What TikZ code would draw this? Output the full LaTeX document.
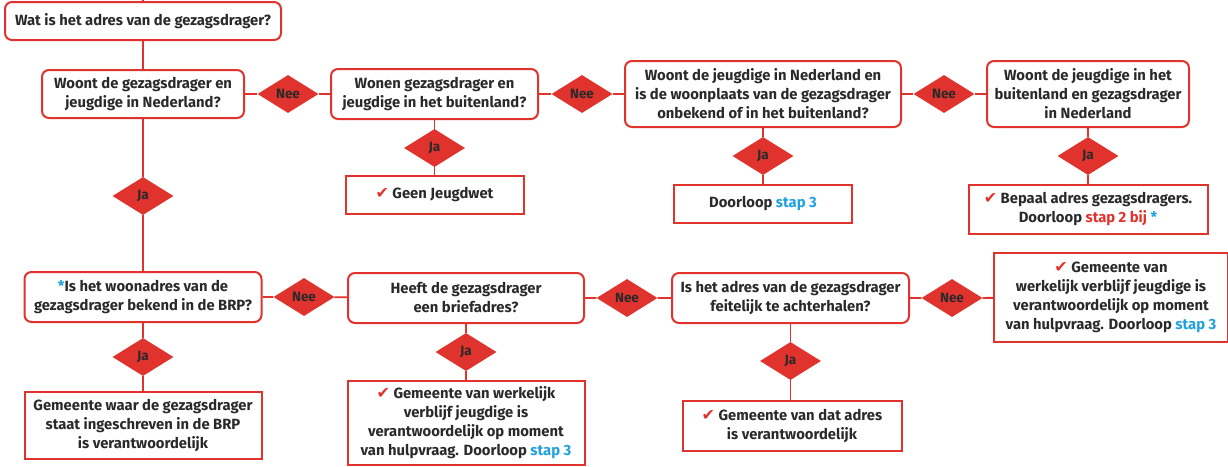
\documentclass[tikz,border=0pt]{standalone}
\usepackage{fontspec}
\setmainfont{Fira Sans}
\newfontfamily\symfont{DejaVu Sans}
\usepackage{tikz}
\usetikzlibrary{shapes.geometric}

\definecolor{rood}{HTML}{E1332D}
\definecolor{blauw}{HTML}{1FA2DE}
\definecolor{tekst}{HTML}{2A2A2A}
\newcommand{\vink}{{\symfont\fontsize{16}{19}\selectfont\color{rood}✔}}
\newcommand{\stap}[1]{{\color{blauw}#1}}

\begin{document}
\begin{tikzpicture}[x=1pt, y=-1pt,
    every node/.style={font=\bfseries\fontsize{14.8}{19}\selectfont, text=tekst, align=center},
    vraag/.style={draw=rood, line width=2pt, rounded corners=7pt, fill=white, inner sep=0pt},
    uitkomst/.style={draw=rood, line width=2pt, fill=white, inner sep=0pt},
    keuze/.style={diamond, fill=rood, inner sep=0pt, minimum width=61pt, minimum height=38pt,
        font=\bfseries\fontsize{13.5}{14}\selectfont},
    lijn/.style={draw=rood, line width=1.8pt}]
    \useasboundingbox (0,0) rectangle (1228,466);

    % Start
    \coordinate (begin) at (143,0);
    \node[vraag, minimum width=276pt, minimum height=38pt] (q0) at (143,21) {Wat is het adres van de gezagsdrager?};

    % Bovenste rij vragen
    \node[vraag, minimum width=202pt, minimum height=48pt] (q1) at (143,94) {Woont de gezagsdrager en\\jeugdige in Nederland?};
    \node[keuze] (n1) at (288,94) {Nee};
    \node[vraag, minimum width=207pt, minimum height=50pt] (q2) at (434.5,94) {Wonen gezagsdrager en\\jeugdige in het buitenland?};
    \node[keuze] (n2) at (582,94) {Nee};
    \node[vraag, minimum width=276pt, minimum height=66pt] (q3) at (763,94) {Woont de jeugdige in Nederland en\\is de woonplaats van de gezagsdrager\\onbekend of in het buitenland?};
    \node[keuze] (n3) at (944,94) {Nee};
    \node[vraag, minimum width=202pt, minimum height=66pt] (q4) at (1088,94) {Woont de jeugdige in het\\buitenland en gezagsdrager\\in Nederland};

    % Uitkomsten bovenste rij
    \node[keuze] (j2) at (434.5,148) {Ja};
    \node[uitkomst, minimum width=178pt, minimum height=38pt] (r2) at (434.5,195) {\vink\ Geen Jeugdwet};
    \node[keuze] (j3) at (763,156) {Ja};
    \node[uitkomst, minimum width=178pt, minimum height=38pt] (r3) at (763,204) {Doorloop \stap{stap 3}};
    \node[keuze] (j4) at (1088,156) {Ja};
    \node[uitkomst, minimum width=239pt, minimum height=49pt] (r4) at (1088,209.5) {\vink\ Bepaal adres gezagsdragers.\\Doorloop {\color{rood}stap 2 bij} \stap{*}};

    % Onderste rij vragen
    \node[keuze] (j1) at (143,196) {Ja};
    \node[vraag, minimum width=237pt, minimum height=50pt] (q5) at (143,297) {\stap{*}Is het woonadres van de\\gezagsdrager bekend in de BRP?};
    \node[keuze] (n5) at (304,297) {Nee};
    \node[vraag, minimum width=236pt, minimum height=50pt] (q6) at (466,298) {Heeft de gezagsdrager\\een briefadres?};
    \node[keuze] (n6) at (627,298) {Nee};
    \node[vraag, minimum width=237pt, minimum height=50pt] (q7) at (790.5,298) {Is het adres van de gezagsdrager\\feitelijk te achterhalen?};
    \node[keuze] (n7) at (952,298) {Nee};
    \node[uitkomst, minimum width=234pt, minimum height=89pt] (r8) at (1111,297.5) {\vink\ Gemeente van\\werkelijk verblijf jeugdige is\\verantwoordelijk op moment\\van hulpvraag. Doorloop \stap{stap 3}};

    % Uitkomsten onderste rij
    \node[keuze] (j5) at (143,357) {Ja};
    \node[uitkomst, minimum width=237pt, minimum height=67pt] (r5) at (143,425.5) {Gemeente waar de gezagsdrager\\staat ingeschreven in de BRP\\is verantwoordelijk};
    \node[keuze] (j6) at (466,352) {Ja};
    \node[uitkomst, minimum width=237pt, minimum height=84pt] (r6) at (466,423) {\vink\ Gemeente van werkelijk\\verblijf jeugdige is\\verantwoordelijk op moment\\van hulpvraag. Doorloop \stap{stap 3}};
    \node[keuze] (j7) at (790.5,361) {Ja};
    \node[uitkomst, minimum width=219pt, minimum height=50pt] (r7) at (792,426) {\vink\ Gemeente van dat adres\\is verantwoordelijk};

    % Verbindingen
    \path[lijn] (begin) -- (q0);
    \path[lijn] (q0) -- (q1);
    \path[lijn] (q1) -- (n1) -- (q2) -- (n2) -- (q3) -- (n3) -- (q4);
    \path[lijn] (q2) -- (j2) -- (r2);
    \path[lijn] (q3) -- (j3) -- (r3);
    \path[lijn] (q4) -- (j4) -- (r4);
    \path[lijn] (q1) -- (j1) -- (q5);
    \path[lijn] (q5) -- (n5) -- (q6) -- (n6) -- (q7) -- (n7) -- (r8);
    \path[lijn] (q5) -- (j5) -- (r5);
    \path[lijn] (q6) -- (j6) -- (r6);
    \path[lijn] (q7) -- (j7) -- (j7 |- r7.north);
\end{tikzpicture}
\end{document}
